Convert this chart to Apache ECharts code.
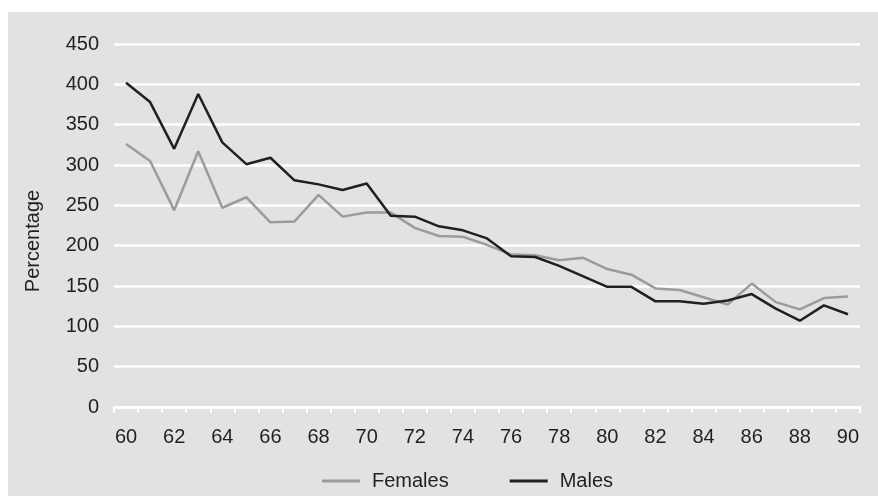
<!DOCTYPE html>
<html>
<head>
<meta charset="utf-8">
<script src="https://cdn.jsdelivr.net/npm/echarts@6/dist/echarts.min.js"></script>
<style>
html,body{margin:0;padding:0;background:#ffffff;}
#chart{width:878px;height:496px;}
</style>
</head>
<body>
<div id="chart"></div>
<script>
const ages = [];
for (let a = 60; a <= 90; a++) ages.push(String(a));

const females = [326, 305, 244, 317, 247, 260, 229, 230, 263, 236, 241, 241, 222, 212, 211, 201, 189, 188, 182, 185, 171, 164, 147, 145, 136, 127, 153, 130, 121, 135, 137];
const males = [402, 378, 320, 388, 328, 301, 309, 281, 276, 269, 277, 237, 236, 224, 219, 209, 187, 186, 175, 162, 149, 149, 131, 131, 128, 132, 140, 122, 107, 126, 115];

const yTicks = [0, 450, 50]; // min, max, interval

const FONT = '"Liberation Sans", Arial, sans-serif';
const FS = 20;
const TXT = '#231f20';

const chart = echarts.init(document.getElementById('chart'), null, {renderer: 'canvas'});
chart.setOption({
  animation: false,
  backgroundColor: '#ffffff',
  graphic: [
    {type: 'rect', z: -10, silent: true, shape: {x: 8, y: 12, width: 870, height: 484}, style: {fill: '#e1e2e3'}},
    {type: 'text', x: 33, y: 241, rotation: Math.PI / 2, z: 10,
     style: {text: 'Percentage', align: 'center', verticalAlign: 'middle', fill: TXT, font: FS + 'px ' + FONT}}
  ],
  grid: {left: 114, right: 18, top: 44, bottom: 89, containLabel: false},
  legend: {
    left: 322, top: 471,
    icon: 'rect', itemWidth: 38, itemHeight: 3, itemGap: 61,
    padding: 0,
    textStyle: {color: TXT, fontSize: FS, fontFamily: FONT, padding: [0, 0, 0, 7]},
    data: ['Females', 'Males']
  },
  xAxis: {
    type: 'category',
    data: ages,
    boundaryGap: true,
    axisLine: {show: true, lineStyle: {color: '#ffffff', width: 2.5}},
    axisTick: {show: true, interval: 0, length: 6, lineStyle: {color: '#ffffff', width: 2}},
    axisLabel: {interval: 1, margin: 20, color: TXT, fontSize: FS, fontFamily: FONT},
    splitLine: {show: false}
  },
  yAxis: {
    type: 'value',
    min: yTicks[0], max: yTicks[1], interval: yTicks[2],
    axisLine: {show: false},
    axisTick: {show: false},
    axisLabel: {margin: 15, color: TXT, fontSize: FS, fontFamily: FONT},
    splitLine: {show: true, lineStyle: {color: '#ffffff', width: 2.5}}
  },
  series: [
    {name: 'Females', type: 'line', data: females, symbol: 'none',
     lineStyle: {color: '#9b9b9b', width: 2.5}, itemStyle: {color: '#9b9b9b'}},
    {name: 'Males', type: 'line', data: males, symbol: 'none',
     lineStyle: {color: '#231f20', width: 2.5}, itemStyle: {color: '#231f20'}}
  ]
});
</script>
</body>
</html>
